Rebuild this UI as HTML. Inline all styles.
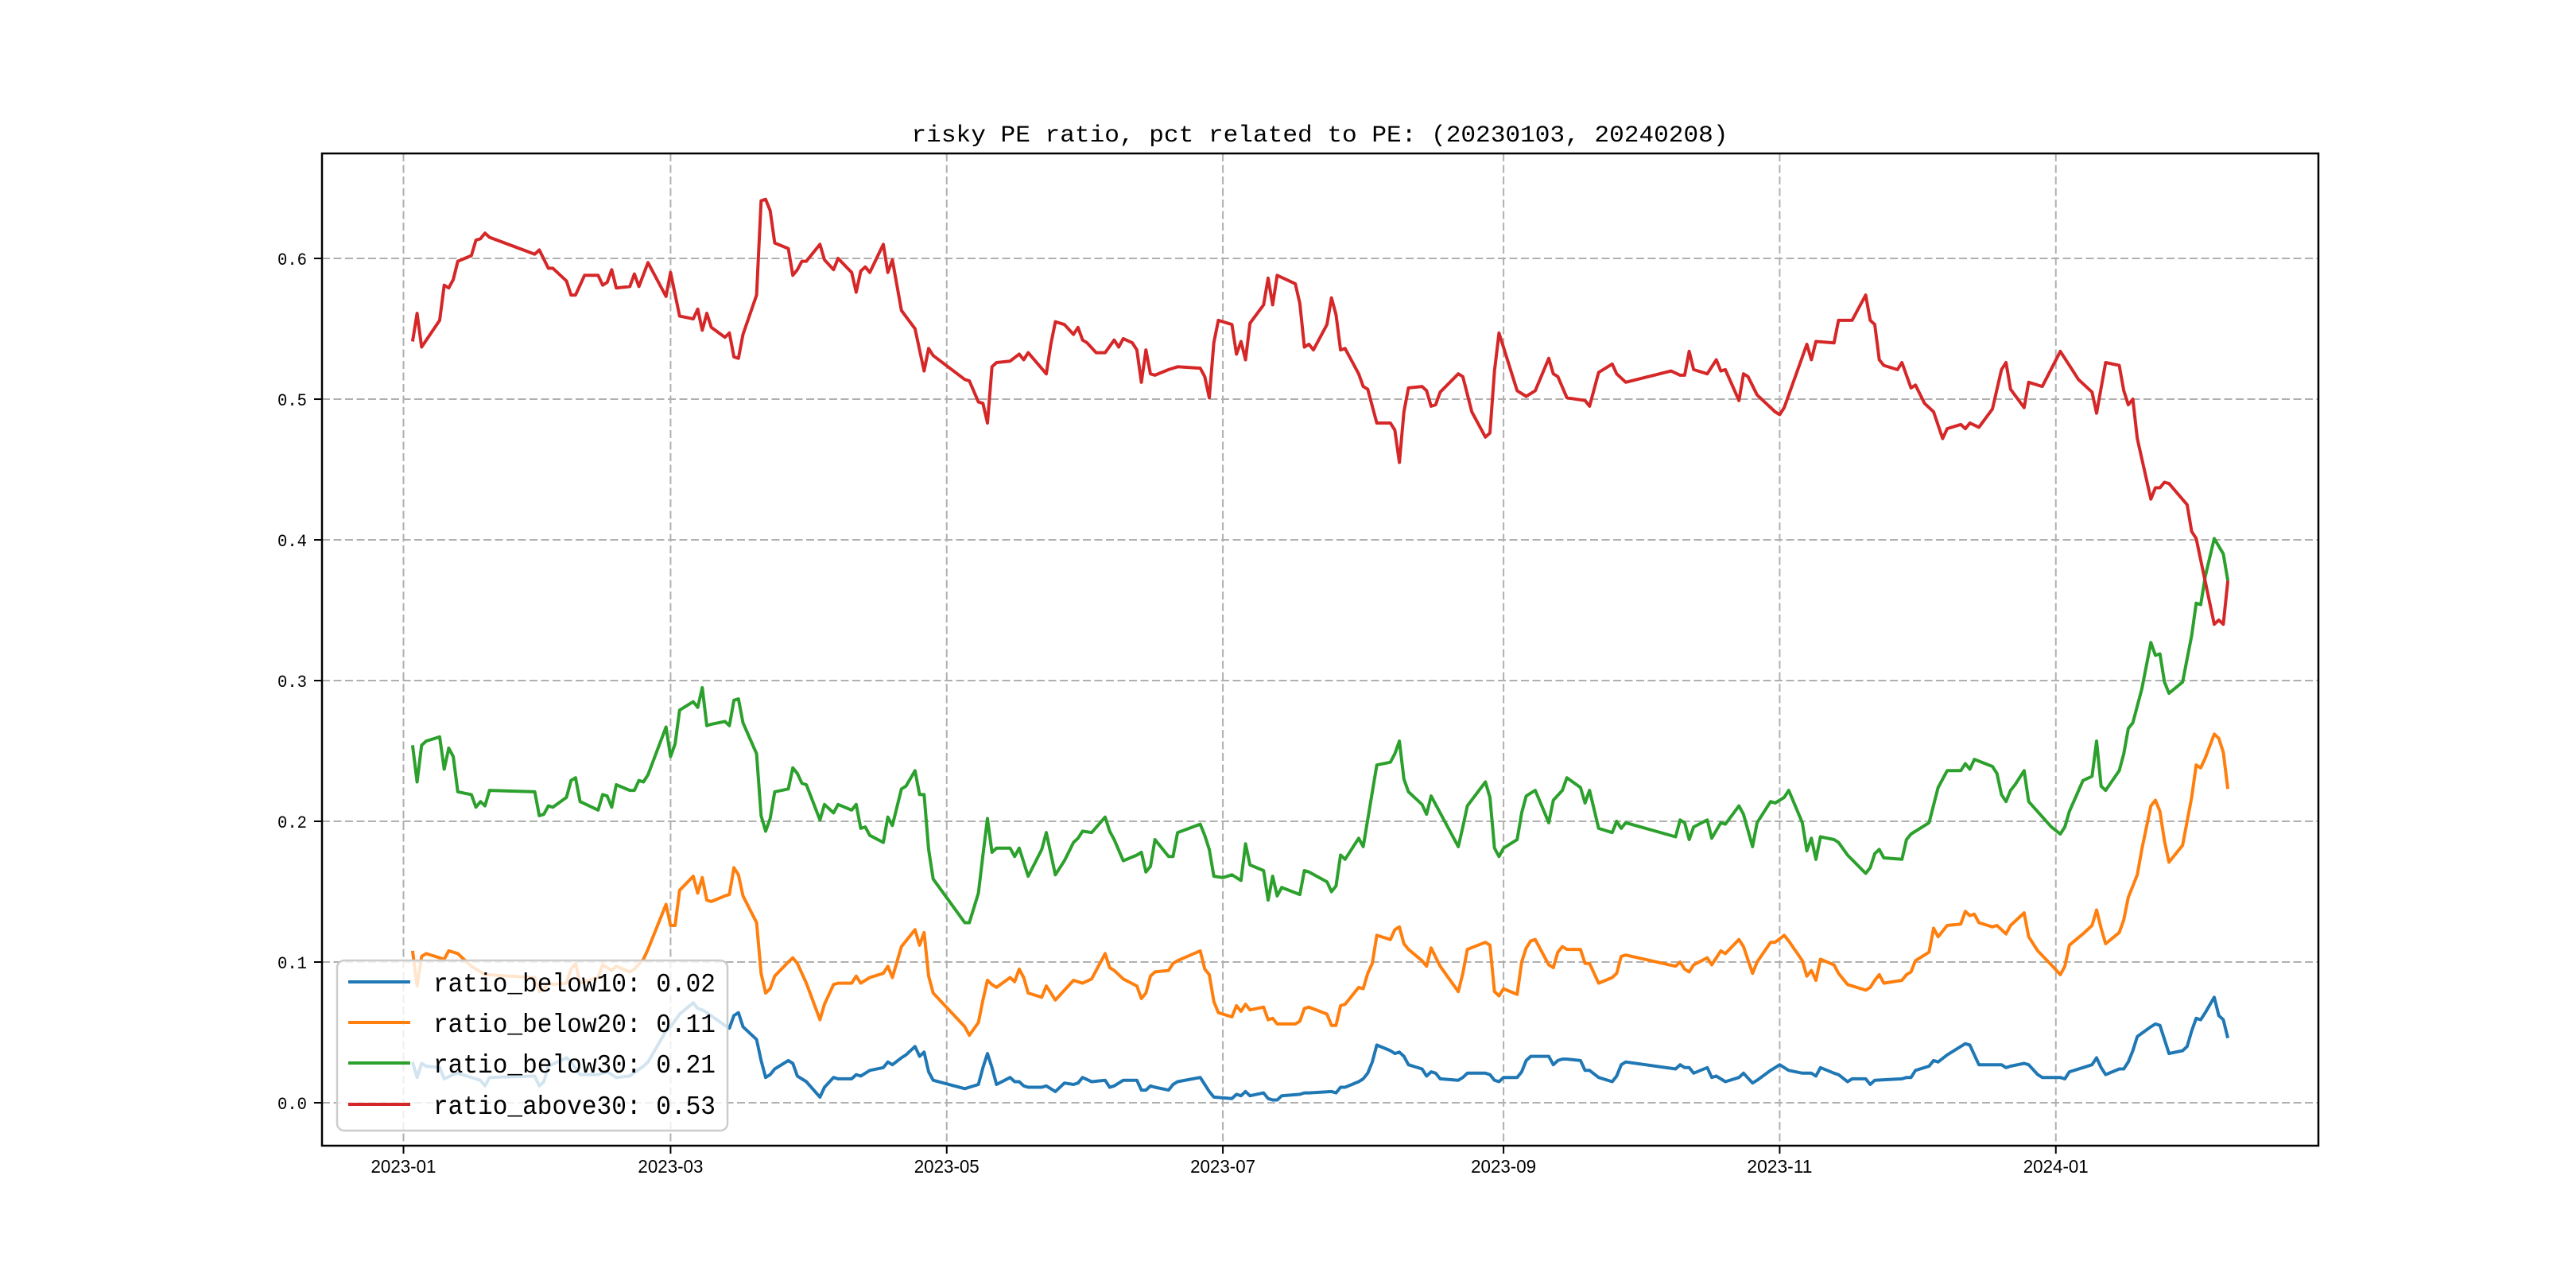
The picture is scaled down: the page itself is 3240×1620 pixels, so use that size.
<!DOCTYPE html>
<html><head><meta charset="utf-8"><title>risky PE ratio</title>
<style>
html,body{margin:0;padding:0;background:#fff;}
svg{display:block;}
</style></head>
<body>
<svg id="chart" xmlns="http://www.w3.org/2000/svg" width="3240" height="1620" viewBox="0 0 3240 1620">
<rect width="3240" height="1620" fill="#fff"/>
<text x="1660" y="178" text-anchor="middle" font-family="'Liberation Mono','WenQuanYi Zen Hei',monospace" font-size="30" textLength="1027" lengthAdjust="spacingAndGlyphs" fill="#000">risky PE ratio, pct related to PE: (20230103, 20240208)</text>
<g id="grid"></g>
<g id="series"></g>
<g id="axes"></g>
<g id="legend"></g>
</svg>
<script>
// x: days since 2023-01-01
const xTickDays = [0, 59, 120, 181, 243, 304, 365];
const xTickLabels = ["2023-01","2023-03","2023-05","2023-07","2023-09","2023-11","2024-01"];
const yTicks = [0.0, 0.1, 0.2, 0.3, 0.4, 0.5, 0.6];
const seriesNames = ["ratio_below10","ratio_below20","ratio_below30","ratio_above30"];
const seriesLast = ["0.02","0.11","0.21","0.53"];

const redDays = [2,3,4,8,9,10,11,12,15,16,17,18,19,29,30,32,33,36,37,38,40,43,44,45,46,47,50,51,52,54,58,59,61,64,65,66,67,68,71,72,73,74,75,78,79,80,81,82,85,86,87,88,89,92,93,95,96,99,100,101,102,103,106,107,108,110,113,115,116,117,124,125,127,128,129,130,131,134,136,137,138,142,143,144,146,148,149,150,151,153,155,157,158,159,161,162,163,164,165,166,169,171,176,177,178,179,180,183,184,185,186,187,190,191,192,193,197,198,199,200,201,204,205,206,207,208,211,212,213,215,218,219,220,221,222,225,226,227,228,229,233,234,236,239,240,241,242,246,248,250,253,254,255,257,261,262,264,267,268,270,280,282,283,284,285,288,290,291,292,295,296,297,299,303,304,305,310,311,312,316,317,320,323,324,325,326,327,330,331,333,334,336,338,340,341,344,345,346,348,351,353,354,355,358,359,362,366,368,370,373,374,376,379,380,381,382,383,386,387,388,389,390,394,395,396,400,401,402,403];
const redVals = [0.541,0.561,0.537,0.556,0.581,0.579,0.585,0.598,0.602,0.613,0.614,0.618,0.615,0.603,0.606,0.593,0.593,0.584,0.574,0.574,0.588,0.588,0.581,0.583,0.592,0.579,0.580,0.589,0.580,0.597,0.573,0.590,0.559,0.557,0.564,0.549,0.561,0.551,0.544,0.547,0.530,0.529,0.546,0.574,0.641,0.642,0.634,0.611,0.607,0.588,0.592,0.598,0.598,0.610,0.599,0.592,0.600,0.590,0.576,0.591,0.594,0.590,0.610,0.590,0.599,0.563,0.550,0.520,0.536,0.531,0.514,0.513,0.498,0.497,0.483,0.523,0.526,0.527,0.532,0.528,0.533,0.518,0.539,0.555,0.553,0.546,0.551,0.542,0.540,0.533,0.533,0.542,0.537,0.543,0.540,0.535,0.512,0.535,0.518,0.517,0.521,0.523,0.522,0.516,0.501,0.540,0.556,0.553,0.532,0.541,0.528,0.554,0.567,0.586,0.567,0.588,0.582,0.568,0.537,0.539,0.535,0.553,0.572,0.560,0.535,0.536,0.518,0.509,0.507,0.483,0.483,0.478,0.455,0.491,0.508,0.509,0.506,0.495,0.496,0.505,0.518,0.516,0.491,0.473,0.476,0.520,0.547,0.506,0.502,0.506,0.529,0.518,0.516,0.501,0.499,0.495,0.519,0.525,0.518,0.512,0.520,0.517,0.517,0.534,0.521,0.518,0.528,0.520,0.521,0.499,0.518,0.516,0.503,0.491,0.489,0.494,0.539,0.528,0.541,0.540,0.556,0.556,0.574,0.556,0.553,0.528,0.524,0.521,0.526,0.508,0.510,0.497,0.491,0.472,0.479,0.482,0.479,0.483,0.480,0.493,0.521,0.526,0.507,0.494,0.512,0.509,0.534,0.524,0.514,0.505,0.490,0.526,0.524,0.506,0.496,0.500,0.472,0.429,0.437,0.437,0.441,0.440,0.425,0.406,0.401,0.340,0.343,0.340,0.371];

const greenDays = [2,3,4,5,8,9,10,11,12,15,16,17,18,19,29,30,31,32,33,36,37,38,39,43,44,45,46,47,50,51,52,53,54,58,59,60,61,64,65,66,67,68,71,72,73,74,75,78,79,80,81,82,85,86,87,88,89,92,93,95,96,99,100,101,102,103,106,107,108,110,111,113,114,115,116,117,124,125,127,128,129,130,131,134,135,136,138,141,142,144,146,148,149,150,152,155,156,157,159,162,163,164,165,166,169,170,171,176,177,178,179,181,183,185,186,187,190,191,192,193,194,198,199,200,204,205,206,207,208,211,212,215,218,219,220,221,222,225,226,227,233,234,235,239,240,241,242,243,246,247,248,249,250,253,254,256,257,260,261,262,264,267,268,269,270,281,282,283,284,285,288,289,291,292,295,296,298,299,302,303,305,306,309,310,311,312,313,316,317,319,323,324,325,326,327,331,332,333,337,339,341,344,345,346,347,351,352,353,354,355,356,358,359,364,366,367,368,371,373,374,375,376,379,380,381,382,384,386,387,388,389,390,393,395,396,397,398,400,402,403];
const greenVals = [0.254,0.228,0.254,0.257,0.260,0.237,0.252,0.246,0.221,0.219,0.210,0.214,0.211,0.222,0.221,0.204,0.205,0.211,0.210,0.217,0.229,0.231,0.214,0.208,0.219,0.218,0.210,0.226,0.222,0.222,0.229,0.228,0.233,0.267,0.246,0.255,0.279,0.285,0.281,0.295,0.268,0.269,0.271,0.268,0.286,0.287,0.270,0.248,0.204,0.193,0.202,0.221,0.223,0.238,0.234,0.227,0.226,0.201,0.212,0.206,0.212,0.208,0.212,0.195,0.196,0.190,0.185,0.203,0.197,0.223,0.225,0.236,0.219,0.219,0.180,0.159,0.128,0.128,0.149,0.176,0.202,0.178,0.181,0.181,0.175,0.181,0.161,0.180,0.192,0.162,0.172,0.185,0.188,0.193,0.192,0.203,0.193,0.187,0.172,0.176,0.178,0.164,0.168,0.187,0.175,0.175,0.192,0.198,0.190,0.180,0.161,0.160,0.162,0.158,0.184,0.169,0.165,0.144,0.161,0.147,0.153,0.148,0.165,0.164,0.157,0.150,0.154,0.176,0.173,0.188,0.182,0.240,0.242,0.248,0.257,0.230,0.221,0.212,0.205,0.218,0.182,0.196,0.211,0.228,0.217,0.181,0.175,0.181,0.187,0.206,0.218,0.220,0.222,0.199,0.215,0.222,0.231,0.224,0.213,0.222,0.195,0.192,0.200,0.195,0.199,0.189,0.201,0.199,0.187,0.196,0.201,0.188,0.199,0.198,0.211,0.205,0.182,0.199,0.214,0.213,0.217,0.222,0.199,0.179,0.188,0.173,0.189,0.187,0.185,0.176,0.163,0.167,0.177,0.180,0.174,0.173,0.187,0.191,0.199,0.224,0.236,0.236,0.241,0.237,0.244,0.239,0.234,0.219,0.214,0.222,0.226,0.236,0.214,0.196,0.191,0.196,0.207,0.229,0.232,0.257,0.225,0.222,0.236,0.248,0.266,0.270,0.294,0.327,0.318,0.319,0.299,0.291,0.299,0.332,0.355,0.354,0.374,0.401,0.390,0.371];

const orangeDays = [2,3,4,5,8,9,10,12,15,17,18,29,30,31,32,33,36,37,38,39,43,44,46,47,50,51,53,54,58,59,60,61,64,65,66,67,68,71,72,73,74,75,78,79,80,81,82,85,86,87,89,92,93,95,96,99,100,101,103,106,107,108,110,111,113,114,115,116,117,124,125,127,128,129,130,131,134,135,136,137,138,141,142,144,146,148,149,150,152,155,156,157,159,162,163,164,165,166,169,170,171,176,177,178,179,180,183,184,185,186,187,190,191,192,193,197,198,199,200,204,205,206,207,208,211,212,213,214,215,218,219,220,221,222,225,226,227,229,233,234,235,239,240,241,242,243,246,247,248,249,250,253,254,255,256,257,260,261,262,264,267,268,269,270,281,282,283,284,285,288,289,291,292,295,296,298,299,302,303,305,306,309,310,311,312,313,316,317,319,323,324,325,326,327,331,332,333,334,337,338,339,341,344,345,346,347,348,351,352,353,354,355,358,359,361,364,366,367,368,371,373,374,375,376,379,380,381,382,383,384,386,387,388,389,390,393,395,396,397,398,400,401,402,403];
const orangeVals = [0.108,0.083,0.104,0.106,0.103,0.102,0.108,0.106,0.097,0.093,0.091,0.089,0.079,0.081,0.085,0.084,0.085,0.095,0.099,0.085,0.089,0.098,0.094,0.097,0.093,0.095,0.102,0.109,0.141,0.126,0.126,0.151,0.161,0.149,0.160,0.144,0.143,0.147,0.148,0.167,0.162,0.147,0.128,0.092,0.078,0.081,0.090,0.100,0.103,0.099,0.085,0.059,0.070,0.084,0.085,0.085,0.090,0.085,0.089,0.092,0.097,0.089,0.111,0.115,0.123,0.112,0.121,0.090,0.078,0.054,0.048,0.057,0.073,0.087,0.084,0.082,0.089,0.086,0.095,0.089,0.078,0.075,0.083,0.073,0.080,0.087,0.086,0.085,0.088,0.106,0.096,0.094,0.088,0.083,0.074,0.078,0.090,0.093,0.094,0.099,0.101,0.108,0.095,0.091,0.072,0.064,0.061,0.069,0.065,0.070,0.066,0.068,0.059,0.060,0.056,0.056,0.058,0.067,0.068,0.063,0.055,0.055,0.069,0.070,0.082,0.081,0.092,0.099,0.119,0.116,0.123,0.125,0.113,0.109,0.101,0.097,0.110,0.097,0.079,0.092,0.109,0.114,0.112,0.079,0.076,0.081,0.077,0.100,0.110,0.115,0.116,0.098,0.096,0.107,0.111,0.109,0.109,0.099,0.099,0.085,0.089,0.092,0.104,0.105,0.097,0.100,0.095,0.093,0.098,0.103,0.098,0.108,0.106,0.116,0.111,0.092,0.100,0.114,0.114,0.119,0.115,0.101,0.090,0.094,0.087,0.102,0.098,0.092,0.084,0.080,0.082,0.087,0.091,0.085,0.087,0.091,0.093,0.101,0.107,0.124,0.118,0.126,0.127,0.136,0.133,0.134,0.128,0.125,0.126,0.123,0.120,0.126,0.135,0.118,0.108,0.098,0.091,0.097,0.112,0.120,0.126,0.137,0.124,0.113,0.121,0.130,0.146,0.154,0.162,0.180,0.211,0.215,0.207,0.186,0.171,0.183,0.217,0.240,0.238,0.245,0.262,0.259,0.249,0.223];

const blueDays = [2,3,4,5,8,9,11,12,15,17,18,19,29,30,31,32,36,37,39,43,45,47,50,53,54,58,59,61,64,65,66,67,71,72,73,74,75,78,79,80,81,82,85,86,87,89,92,93,95,96,99,100,101,103,106,107,108,110,111,113,114,115,116,117,124,125,127,128,129,130,131,134,135,136,137,138,141,142,144,146,148,149,150,152,155,156,157,159,162,163,164,165,166,169,170,171,176,177,178,179,183,184,185,186,187,190,191,192,193,194,198,199,200,205,206,207,208,211,212,213,214,215,218,219,220,221,222,225,226,227,228,229,233,234,235,239,240,241,242,243,246,247,248,249,250,253,254,255,256,257,260,261,262,264,267,268,269,270,281,282,283,284,285,288,289,290,292,295,296,298,299,302,303,304,306,309,311,312,313,316,317,319,320,323,324,325,331,332,333,334,337,338,339,341,344,345,346,348,353,354,355,358,359,361,362,364,366,367,368,371,373,374,375,376,379,380,381,382,383,386,387,388,389,390,393,394,395,396,397,398,400,401,402,403];
const blueVals = [0.029,0.018,0.028,0.026,0.025,0.017,0.020,0.021,0.018,0.016,0.012,0.018,0.019,0.012,0.015,0.026,0.032,0.029,0.020,0.020,0.022,0.018,0.019,0.026,0.029,0.051,0.054,0.063,0.071,0.067,0.066,0.064,0.055,0.053,0.062,0.064,0.054,0.045,0.030,0.018,0.020,0.024,0.030,0.028,0.019,0.015,0.004,0.011,0.018,0.017,0.017,0.020,0.019,0.023,0.025,0.029,0.027,0.032,0.034,0.040,0.033,0.036,0.022,0.016,0.010,0.011,0.013,0.025,0.035,0.025,0.013,0.018,0.015,0.015,0.012,0.011,0.011,0.012,0.008,0.014,0.013,0.014,0.018,0.015,0.016,0.011,0.012,0.016,0.016,0.009,0.009,0.012,0.011,0.009,0.013,0.015,0.018,0.013,0.008,0.004,0.003,0.006,0.005,0.008,0.005,0.007,0.003,0.002,0.002,0.005,0.006,0.007,0.007,0.008,0.007,0.011,0.011,0.015,0.017,0.021,0.029,0.041,0.037,0.035,0.036,0.033,0.027,0.024,0.019,0.022,0.021,0.017,0.016,0.018,0.021,0.021,0.020,0.016,0.015,0.018,0.018,0.022,0.030,0.033,0.033,0.033,0.027,0.030,0.031,0.031,0.030,0.023,0.023,0.018,0.015,0.019,0.027,0.029,0.024,0.027,0.025,0.025,0.021,0.025,0.018,0.019,0.015,0.018,0.021,0.014,0.016,0.023,0.025,0.027,0.023,0.021,0.021,0.019,0.025,0.021,0.020,0.015,0.017,0.017,0.013,0.016,0.017,0.018,0.018,0.023,0.026,0.030,0.029,0.034,0.040,0.042,0.041,0.027,0.027,0.025,0.026,0.028,0.027,0.020,0.018,0.018,0.018,0.017,0.022,0.025,0.027,0.032,0.025,0.020,0.024,0.024,0.029,0.037,0.047,0.054,0.056,0.055,0.045,0.035,0.037,0.040,0.051,0.060,0.059,0.064,0.075,0.062,0.059,0.046];

const NS = "http://www.w3.org/2000/svg";
const L = 405, R = 2916, T = 193, B = 1441;
const xMin = -18, xMax = 423, yMin = -0.0305, yMax = 0.6746;
function xScale(d){ return L + (d - xMin) / (xMax - xMin) * (R - L); }
function yScale(v){ return B - (v - yMin) / (yMax - yMin) * (B - T); }
function mk(tag, attrs, parent){
  const e = document.createElementNS(NS, tag);
  for (const k in attrs) e.setAttribute(k, attrs[k]);
  parent.appendChild(e);
  return e;
}
const grid = document.getElementById("grid");
const axes = document.getElementById("axes");
const series = document.getElementById("series");
const legend = document.getElementById("legend");

xTickDays.forEach((d, i) => {
  const x = xScale(d);
  const g = mk("line", {x1:x, x2:x, y1:T, y2:B, stroke:"#b0b0b0", "stroke-width":2, "stroke-dasharray":"10,4.5"}, grid);
  
  
  const t = mk("line", {x1:x, x2:x, y1:B, y2:B+10, stroke:"#000", "stroke-width":2}, axes);
  
  
  const lb = mk("text", {x:x, y:B+34, "text-anchor":"middle", "font-family":"'Liberation Sans','WenQuanYi Zen Hei',sans-serif", "font-size":23, textLength:82, lengthAdjust:"spacingAndGlyphs", fill:"#000"}, axes);
  lb.textContent = xTickLabels[i];
  
  
});
yTicks.forEach(v => {
  const y = yScale(v);
  const g = mk("line", {x1:L, x2:R, y1:y, y2:y, stroke:"#b0b0b0", "stroke-width":2, "stroke-dasharray":"10,4.5"}, grid);
  
  
  const t = mk("line", {x1:L-10, x2:L, y1:y, y2:y, stroke:"#000", "stroke-width":2}, axes);
  
  
  const lb = mk("text", {x:386, y:y+8, "text-anchor":"end", "font-family":"'Liberation Mono','WenQuanYi Zen Hei',monospace", "font-size":22, textLength:37, lengthAdjust:"spacingAndGlyphs", fill:"#000"}, axes);
  lb.textContent = v.toFixed(1);
  
  
});
const frame = mk("rect", {x:L, y:T, width:R-L, height:B-T, fill:"none", stroke:"#000", "stroke-width":2.5}, axes);



const colors = ["#1f77b4","#ff7f0e","#2ca02c","#d62728"];
const allDays = [blueDays, orangeDays, greenDays, redDays];
const allVals = [blueVals, orangeVals, greenVals, redVals];
allDays.forEach((days, i) => {
  const vals = allVals[i];
  const pts = days.map((d, j) => xScale(d).toFixed(1) + "," + yScale(vals[j]).toFixed(1)).join(" ");
  const pl = mk("polyline", {points:pts, fill:"none", stroke:colors[i], "stroke-width":4, "stroke-linejoin":"round"}, series);
  
  
});

const box = mk("rect", {x:424, y:1208, width:491, height:214, rx:9, fill:"#fff", "fill-opacity":0.8, stroke:"#cccccc", "stroke-width":2.5}, legend);


const rowY = [1235, 1286, 1337, 1389];
seriesNames.forEach((n, i) => {
  const ln = mk("line", {x1:438, x2:516, y1:rowY[i], y2:rowY[i], stroke:colors[i], "stroke-width":4}, legend);
  
  
  const tx = mk("text", {x:545, y:rowY[i]+12, "font-family":"'Liberation Mono','WenQuanYi Zen Hei',monospace", "font-size":33, textLength:355, lengthAdjust:"spacingAndGlyphs", fill:"#000"}, legend);
  tx.textContent = n + ": " + seriesLast[i];
  
  
});
</script>
</body></html>
